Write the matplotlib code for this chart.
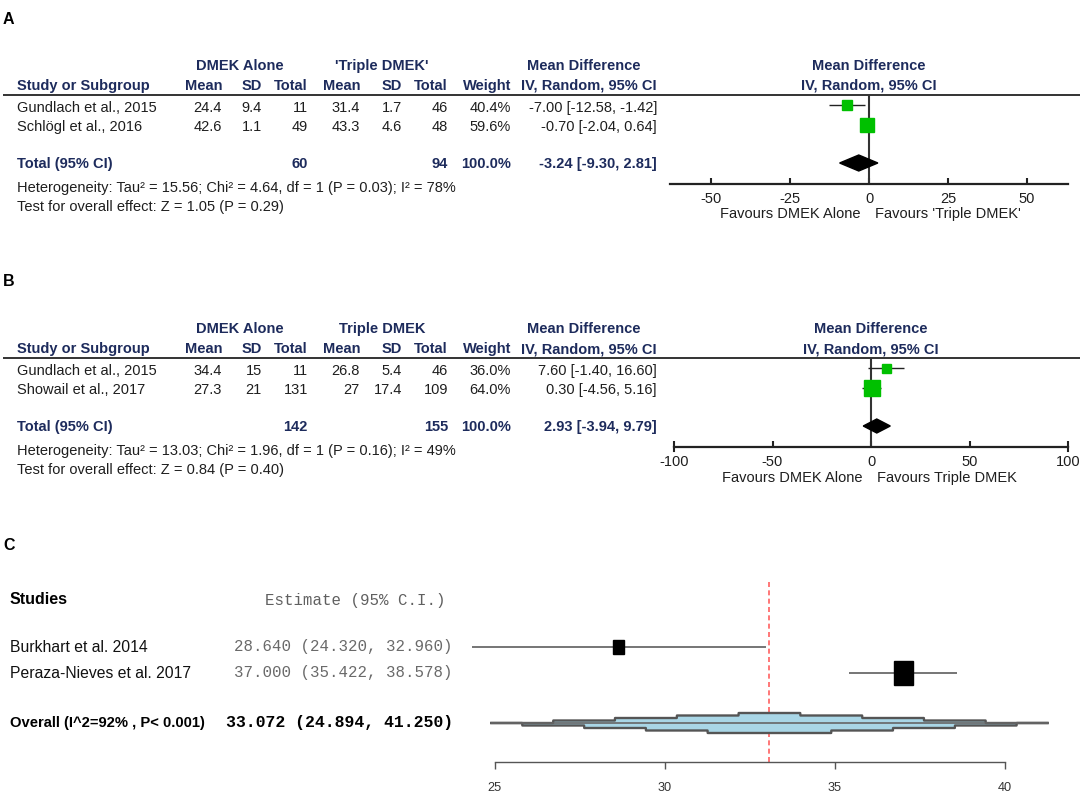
import matplotlib
matplotlib.use("Agg")
import matplotlib.pyplot as plt
from matplotlib.patches import Polygon, Rectangle
import numpy as np

plt.rcParams['font.family'] = ['Liberation Sans', 'DejaVu Sans']
plt.rcParams['axes.unicode_minus'] = False

# ---------------- Data: panel A ----------------
a_groups = ["DMEK Alone", "'Triple DMEK'"]
a_studies = ["Gundlach et al., 2015", "Schlögl et al., 2016"]
a_exp_mean = [24.4, 42.6]
a_exp_sd = [9.4, 1.1]
a_exp_n = [11, 49]
a_ctl_mean = [31.4, 43.3]
a_ctl_sd = [1.7, 4.6]
a_ctl_n = [46, 48]
a_weight = [40.4, 59.6]
a_md = [-7.00, -0.70]
a_lo = [-12.58, -2.04]
a_hi = [-1.42, 0.64]
a_total_n = [60, 94]
a_total_md = [-3.24, -9.30, 2.81]
a_het = "Heterogeneity: Tau² = 15.56; Chi² = 4.64, df = 1 (P = 0.03); I² = 78%"
a_test = "Test for overall effect: Z = 1.05 (P = 0.29)"
a_ticks = [-50, -25, 0, 25, 50]
a_favours = ["Favours DMEK Alone", "Favours 'Triple DMEK'"]

# ---------------- Data: panel B ----------------
b_groups = ["DMEK Alone", "Triple DMEK"]
b_studies = ["Gundlach et al., 2015", "Showail et al., 2017"]
b_exp_mean = [34.4, 27.3]
b_exp_sd = [15, 21]
b_exp_n = [11, 131]
b_ctl_mean = [26.8, 27]
b_ctl_sd = [5.4, 17.4]
b_ctl_n = [46, 109]
b_weight = [36.0, 64.0]
b_md = [7.60, 0.30]
b_lo = [-1.40, -4.56]
b_hi = [16.60, 5.16]
b_total_n = [142, 155]
b_total_md = [2.93, -3.94, 9.79]
b_het = "Heterogeneity: Tau² = 13.03; Chi² = 1.96, df = 1 (P = 0.16); I² = 49%"
b_test = "Test for overall effect: Z = 0.84 (P = 0.40)"
b_ticks = [-100, -50, 0, 50, 100]
b_favours = ["Favours DMEK Alone", "Favours Triple DMEK"]

# ---------------- Data: panel C ----------------
c_studies = ["Burkhart et al. 2014", "Peraza-Nieves et al. 2017"]
c_est = [28.640, 37.000]
c_lo = [24.320, 35.422]
c_hi = [32.960, 38.578]
c_overall = [33.072, 24.894, 41.250]
c_overall_label = "Overall (I^2=92% , P< 0.001)"
c_ticks = [25, 30, 35, 40]

# ---------------- Layout / style ----------------
W, H = 1084, 796
fig = plt.figure(figsize=(W / 100, H / 100), dpi=100)
bg = fig.add_axes([0, 0, 1, 1])
bg.set_xlim(0, W)
bg.set_ylim(H, 0)
bg.axis('off')

NAVY = '#1d2b5c'
TXT = '#1e1e1e'
GREEN = '#00c000'
FS = 10.5


def px_axes(x0, x1, y0, y1):
    return fig.add_axes([x0 / W, 1 - y1 / H, (x1 - x0) / W, (y1 - y0) / H])


def fmt(v):
    return f"{v:g}"


def rev_panel(yo, letter, groups, studies, em, esd, en, cm, csd, cn, wt, md, lo, hi,
              tot_n, tot_md, het, test, ticks, favours, xlim, ax_x, zero_px, fav_y):
    bg.text(3, 19 + yo, letter, fontsize=11.5, fontweight='bold', color='black',
            ha='left', va='center')
    cols = [222, 262, 308, 360, 402, 448, 511, 657]
    bold = dict(fontsize=FS, fontweight='bold', color=NAVY, va='center')
    bg.text(240, 66 + yo, groups[0], ha='center', **bold)
    bg.text(382, 66 + yo, groups[1], ha='center', **bold)
    bg.text(584, 66 + yo, "Mean Difference", ha='center', **bold)
    bg.text(17, 86 + yo, "Study or Subgroup", ha='left', **bold)
    for x, lab in zip(cols, ["Mean", "SD", "Total", "Mean", "SD", "Total", "Weight",
                             "IV, Random, 95% CI"]):
        bg.text(x, 86 + yo, lab, ha='right', **bold)
    bg.text(zero_px, 66 + yo, "Mean Difference", ha='center', **bold)
    bg.text(zero_px, 86 + yo, "IV, Random, 95% CI", ha='center', **bold)
    bg.hlines(95 + yo, 3, 1080, color='#333333', lw=1.4)
    reg = dict(fontsize=FS, color=TXT, va='center')
    row_y = [108 + yo, 127 + yo]
    for i, y in enumerate(row_y):
        bg.text(17, y, studies[i], ha='left', **reg)
        vals = [fmt(em[i]), fmt(esd[i]), str(en[i]), fmt(cm[i]), fmt(csd[i]), str(cn[i]),
                f"{wt[i]:.1f}%", f"{md[i]:.2f} [{lo[i]:.2f}, {hi[i]:.2f}]"]
        for x, v in zip(cols, vals):
            bg.text(x, y, v, ha='right', **reg)
    ty = 164 + yo
    bg.text(17, ty, "Total (95% CI)", ha='left', **bold)
    bg.text(cols[2], ty, str(tot_n[0]), ha='right', **bold)
    bg.text(cols[5], ty, str(tot_n[1]), ha='right', **bold)
    bg.text(cols[6], ty, f"{sum(wt):.1f}%", ha='right', **bold)
    bg.text(cols[7], ty, f"{tot_md[0]:.2f} [{tot_md[1]:.2f}, {tot_md[2]:.2f}]",
            ha='right', **bold)
    bg.text(17, 188 + yo, het, ha='left', **reg)
    bg.text(17, 207 + yo, test, ha='left', **reg)

    ax = px_axes(ax_x[0], ax_x[1], 95 + yo, 184 + yo)
    ax.set_xlim(*xlim)
    ax.set_ylim(184 + yo, 95 + yo)
    ax.patch.set_alpha(0)
    for s in ['top', 'left', 'right']:
        ax.spines[s].set_visible(False)
    ax.spines['bottom'].set_linewidth(1.6)
    ax.spines['bottom'].set_color('#222222')
    ax.set_yticks([])
    ax.set_xticks(ticks)
    ax.set_xticklabels([str(t) for t in ticks])
    ax.tick_params(axis='x', direction='in', length=4.5, width=1.5, color='#222222',
                   labelsize=FS, labelcolor=TXT, pad=5.5)
    ax.axvline(0, color='#333333', lw=1.5)
    sq_y = [105 + yo, 125 + yo]
    for i, y in enumerate(sq_y):
        ax.hlines(y, lo[i], hi[i], color='#222222', lw=1.0, zorder=2, clip_on=False)
        ax.plot(md[i], y, marker='s', ms=0.25 * wt[i] * 0.72, color=GREEN, mec=GREEN,
                zorder=3, clip_on=False)
    dy = 163 + yo
    dh = 8 if yo == 0 else 7
    ax.add_patch(Polygon([[tot_md[1], dy], [tot_md[0], dy - dh], [tot_md[2], dy],
                          [tot_md[0], dy + dh]], closed=True, color='black', zorder=3))
    bg.text(zero_px - 8, fav_y + yo, favours[0], ha='right', va='center', fontsize=FS, color=TXT)
    bg.text(zero_px + 6, fav_y + yo, favours[1], ha='left', va='center', fontsize=FS, color=TXT)
    return ax


rev_panel(0, "A", a_groups, a_studies, a_exp_mean, a_exp_sd, a_exp_n, a_ctl_mean,
          a_ctl_sd, a_ctl_n, a_weight, a_md, a_lo, a_hi, a_total_n, a_total_md,
          a_het, a_test, a_ticks, a_favours, (-63, 63), (670, 1068), 869, 214)

axb = rev_panel(263, "B", b_groups, b_studies, b_exp_mean, b_exp_sd, b_exp_n, b_ctl_mean,
                b_ctl_sd, b_ctl_n, b_weight, b_md, b_lo, b_hi, b_total_n, b_total_md,
                b_het, b_test, b_ticks, b_favours, (-100, 100), (674, 1068), 871, 215)
for t in (b_ticks[0], b_ticks[-1]):
    axb.plot([t, t], [447, 451], color='#222222', lw=1.5, clip_on=False)

# ---------------- Panel C ----------------
bg.text(3, 545, "C", fontsize=11.5, fontweight='bold', color='black', ha='left', va='center')
bg.text(10, 600, "Studies", fontsize=11.5, fontweight='bold', color='black', ha='left', va='center')
bg.text(265, 600, "Estimate (95% C.I.)", fontsize=11.3, family='Liberation Mono',
        color='#606060', ha='left', va='center')
c_rows = [647, 673]
for i, y in enumerate(c_rows):
    bg.text(10, y, c_studies[i], fontsize=11.3, color='#111111', ha='left', va='center')
    bg.text(453, y, f"{c_est[i]:.3f} ({c_lo[i]:.3f}, {c_hi[i]:.3f})", fontsize=11.3,
            family='Liberation Mono', color='#6a6a6a', ha='right', va='center')
oy = 723
bg.text(10, oy, c_overall_label, fontsize=10.6, fontweight='bold', color='black',
        ha='left', va='center')
bg.text(453, oy, f"{c_overall[0]:.3f} ({c_overall[1]:.3f}, {c_overall[2]:.3f})",
        fontsize=11.9, family='Liberation Mono', fontweight='bold', color='black',
        ha='right', va='center')

axc = px_axes(495, 1005, 582, 762)
axc.set_xlim(25, 40)
axc.set_ylim(762, 582)
axc.patch.set_alpha(0)
for s in ['top', 'left', 'right']:
    axc.spines[s].set_visible(False)
axc.spines['bottom'].set_linewidth(1.0)
axc.spines['bottom'].set_color('#555555')
axc.set_yticks([])
axc.set_xticks(c_ticks)
axc.set_xticklabels([str(t) for t in c_ticks])
axc.tick_params(axis='x', direction='out', length=5, width=1.0, color='#555555',
                labelsize=9.2, labelcolor='#333333', pad=9.5)
axc.axvline(c_overall[0], color='#ff6060', ls=(0, (3, 2)), lw=1.2, zorder=1)

pxu = 510 / 15.0
box_px = [(11, 14), (19, 24)]
for i, y in enumerate(c_rows):
    axc.hlines(y, c_lo[i], c_hi[i], color='#6a6a6a', lw=1.3, clip_on=False, zorder=2)
    bw, bh = box_px[i]
    axc.add_patch(Rectangle((c_est[i] - bw / 2 / pxu, y - bh / 2), bw / pxu, bh,
                            color='black', zorder=3, clip_on=False))

c, lo, hi = c_overall
half = (hi - lo) / 2
xs = np.linspace(lo, hi, 3001)
frac = 1 - np.abs(xs - c) / half
top = np.clip(np.floor(frac * 4.5), 0, 4) / 4
bot = np.clip(np.floor(frac * 4.5 + 0.5), 0, 4) / 4
Hd = 10
axc.fill_between(xs, oy - top * Hd, oy + bot * Hd, color='#a9d6e6', lw=0, zorder=2,
                 clip_on=False)
axc.plot(xs, oy - top * Hd, color='#555555', lw=1.7, zorder=3, clip_on=False)
axc.plot(xs, oy + bot * Hd, color='#555555', lw=1.7, zorder=3, clip_on=False)
axc.hlines(oy, lo, hi, color='#666666', lw=1.2, zorder=3, clip_on=False)

fig.savefig("out.png", dpi=100)
